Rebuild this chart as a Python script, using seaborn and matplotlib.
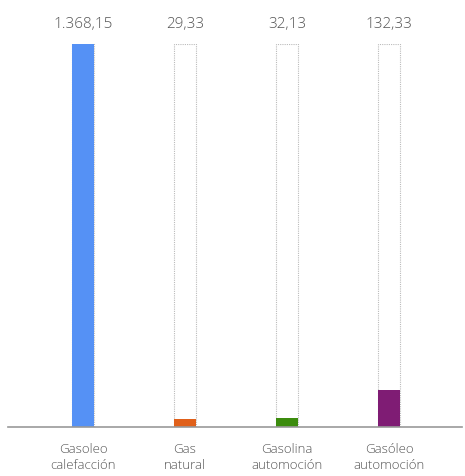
import pandas as pd
import seaborn as sns
import matplotlib.pyplot as plt

# chart values
categories = ['Gasoleo\ncalefacción', 'Gas\nnatural', 'Gasolina\nautomoción', 'Gasóleo\nautomoción']
values = [1368.15, 29.33, 32.13, 132.33]
value_labels = ['1.368,15', '29,33', '32,13', '132,33']
colors = ['#5591F5', '#E0601A', '#3C8C0E', '#7F1C74']

df = pd.DataFrame({'Category': categories, 'Value': values})
df['Max'] = max(values)

sns.set_style('white')
plt.rcParams['font.family'] = ['Open Sans', 'DejaVu Sans']

fig = plt.figure(figsize=(4.65, 4.77), dpi=100)
ax = fig.add_axes([8 / 465, 49 / 477, 454 / 465, 383 / 477])

# dotted outline bars at full height
sns.barplot(data=df, x='Category', y='Max', ax=ax, width=0.216, fill=False,
            edgecolor='#BBBBBB', linestyle=(0, (1, 1)), linewidth=0.8)
sns.barplot(data=df, x='Category', y='Value', hue='Category', palette=colors,
            legend=False, ax=ax, width=0.216, saturation=1, linewidth=0)

for i, lab in enumerate(value_labels):
    ax.text(i, df['Max'][i] + 45, lab, ha='center', va='bottom',
            fontsize=11, color='#555555', fontweight='light')

ax.set_xlim(-0.735, 3.716)
ax.set_ylim(0, max(values))
ax.set_xlabel('')
ax.set_ylabel('')
ax.set_yticks([])
ax.tick_params(axis='x', length=0, pad=11, labelsize=9.5, labelcolor='#555555')
for lbl in ax.get_xticklabels():
    lbl.set_fontweight('light')
    lbl.set_linespacing(1.25)
for s in ['top', 'right', 'left']:
    ax.spines[s].set_visible(False)
ax.spines['bottom'].set_color('#999999')
ax.spines['bottom'].set_linewidth(1.2)

fig.savefig('out.png', dpi=100)
